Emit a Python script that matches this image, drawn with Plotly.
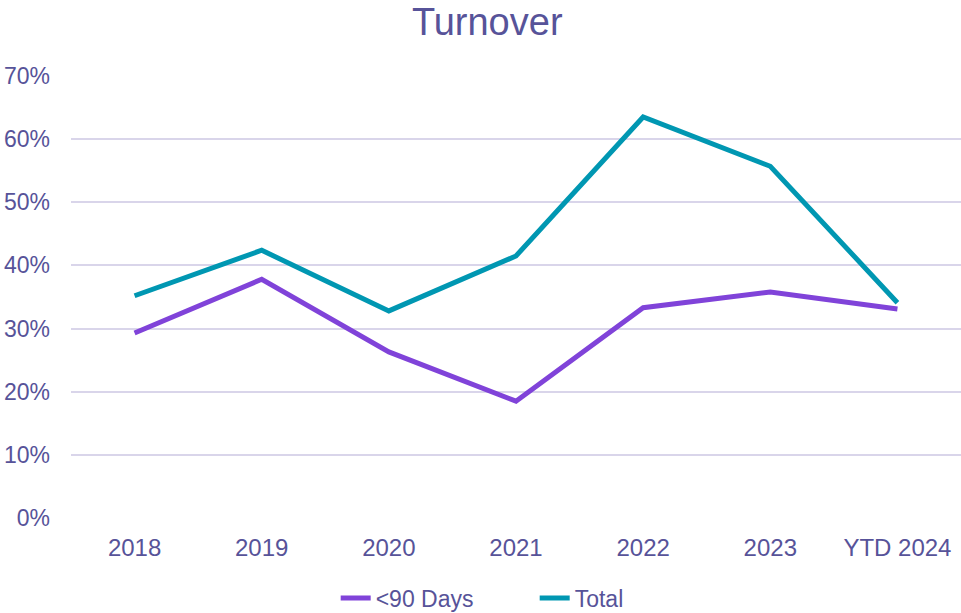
import plotly.graph_objects as go

categories = ["2018", "2019", "2020", "2021", "2022", "2023", "YTD 2024"]
under_90_days = [0.293, 0.378, 0.263, 0.185, 0.333, 0.358, 0.331]
total = [0.352, 0.424, 0.328, 0.415, 0.635, 0.557, 0.341]
y_ticks = [0, 0.1, 0.2, 0.3, 0.4, 0.5, 0.6, 0.7]

text_color = "#575399"
fig = go.Figure()
fig.add_trace(go.Scatter(x=categories, y=under_90_days, name="<90 Days", mode="lines",
                         line=dict(color="#8043D9", width=5)))
fig.add_trace(go.Scatter(x=categories, y=total, name="Total", mode="lines",
                         line=dict(color="#0097B2", width=5)))
fig.update_layout(
    width=961, height=613,
    margin=dict(l=71, r=0, t=76, b=95, autoexpand=False),
    paper_bgcolor="white", plot_bgcolor="white",
    font=dict(family="Liberation Sans, Arial", color=text_color, size=23),
    title=dict(text="Turnover", x=0.507, xanchor="center", y=0.964, yanchor="middle",
               font=dict(size=38, color=text_color)),
    xaxis=dict(showgrid=False, showline=False, zeroline=False, ticks="",
               range=[-0.5, 6.5], automargin=False, ticklabelstandoff=13,
               tickfont=dict(size=24, color=text_color)),
    yaxis=dict(range=[0, 0.7], tickvals=y_ticks, tickformat=".0%", automargin=False,
               showgrid=True, gridcolor="#D9D5EA", gridwidth=1.5, zeroline=False,
               tickfont=dict(size=23, color=text_color), ticklabelstandoff=20),
    legend=dict(orientation="h", x=0.521, xanchor="center", y=-0.181, yanchor="middle",
                font=dict(size=23, color=text_color), entrywidth=154),
    showlegend=True,
)
fig.write_html("out.html", config={"displayModeBar": False},
               post_script="document.body.style.margin='0';")
